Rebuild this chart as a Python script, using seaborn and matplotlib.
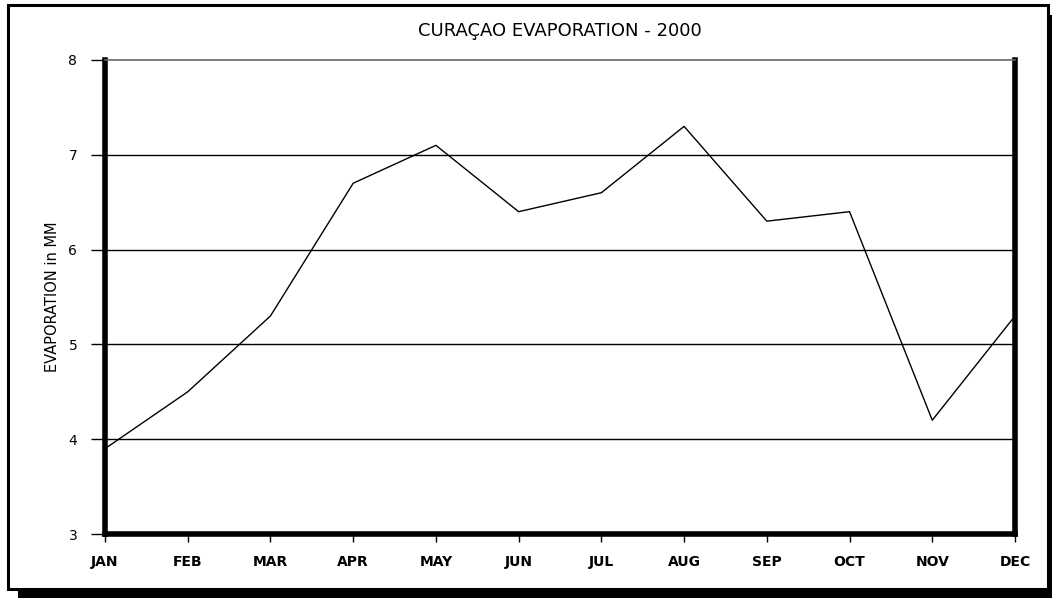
import numpy as np
import pandas as pd
import seaborn as sns
import matplotlib.pyplot as plt
from matplotlib.patches import Rectangle

months = ["JAN", "FEB", "MAR", "APR", "MAY", "JUN",
          "JUL", "AUG", "SEP", "OCT", "NOV", "DEC"]
evaporation = [3.9, 4.5, 5.3, 6.7, 7.1, 6.4, 6.6, 7.3, 6.3, 6.4, 4.2, 5.3]
y_ticks = [3, 4, 5, 6, 7, 8]

sns.set_theme(style="white")
plt.rcParams['font.family'] = ['DejaVu Sans']
plt.rcParams['text.color'] = 'black'
plt.rcParams['axes.labelcolor'] = 'black'
plt.rcParams['xtick.color'] = 'black'
plt.rcParams['ytick.color'] = 'black'

W, H = 1052, 598
fig = plt.figure(figsize=(W / 100, H / 100), dpi=100, facecolor="white")

# outer frame with drop shadow (pixel coords -> figure fraction)
def px_rect(x0, y0, x1, y1, **kw):
    return Rectangle((x0 / W, 1 - y1 / H), (x1 - x0) / W, (y1 - y0) / H,
                     transform=fig.transFigure, **kw)

fig.patches.append(px_rect(18, 15, 1060, 606, facecolor="black", edgecolor="none", zorder=0))
fig.patches.append(px_rect(8, 5, 1048, 589, facecolor="white", edgecolor="black",
                           linewidth=2.2, zorder=1))

ax = fig.add_axes([105 / W, 1 - 534 / H, (1015 - 105) / W, (534 - 60) / H])
ax.set_zorder(2)

df = pd.DataFrame({"month": np.arange(len(months)), "evap": evaporation})
sns.lineplot(data=df, x="month", y="evap", ax=ax, color="black", linewidth=1.0)

ax.set_xlim(0, len(months) - 1)
ax.set_ylim(3, 8)
ax.set_xticks(np.arange(len(months)))
ax.set_xticklabels(months)
ax.set_yticks(y_ticks)
ax.set_yticklabels([str(t) for t in y_ticks])

for t in [4, 5, 6, 7]:
    ax.axhline(t, color="black", linewidth=1.0, zorder=1)

for side in ["left", "bottom", "right"]:
    ax.spines[side].set_color("black")
    ax.spines[side].set_linewidth(4)
ax.spines["top"].set_color("#666666")
ax.spines["top"].set_linewidth(1.2)

ax.tick_params(axis="y", direction="out", length=10, width=1,
               labelsize=10, pad=10, left=True)
ax.tick_params(axis="x", direction="out", length=6, width=1,
               labelsize=10, pad=9, bottom=True)
for lab in ax.get_xticklabels():
    lab.set_fontweight("bold")

ax.set_xlabel("")
ax.set_ylabel("EVAPORATION in MM", fontsize=10.5, labelpad=6)
ax.set_title("CURAÇAO EVAPORATION - 2000", fontsize=13, pad=17)

fig.savefig("out.png", dpi=100, facecolor="white")
